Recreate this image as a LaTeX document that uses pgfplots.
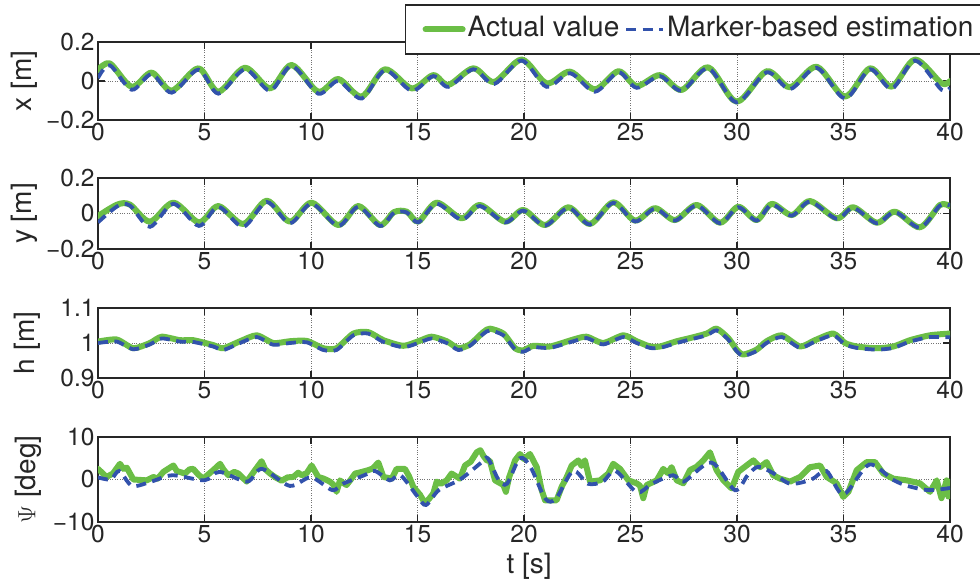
\documentclass[border=0pt]{standalone}
\usepackage{fontspec}
\setmainfont{TeX Gyre Heros}
\usepackage{pgfplots}
\pgfplotsset{compat=1.18}
\definecolor{actgreen}{RGB}{107,190,70}
\definecolor{estblue}{RGB}{50,82,172}
\definecolor{axgray}{RGB}{38,38,38}
\pgfplotsset{
  sub/.style={
    scale only axis, width=852pt, anchor=south west,
    xmin=0, xmax=40, xtick={0,5,...,40},
    tick align=inside, tick pos=both, major tick length=7pt,
    grid=major, grid style={dotted, black!55, line width=0.9pt},
    axis line style={line width=1.3pt, axgray},
    every tick/.style={line width=1.1pt, axgray},
    tick label style={font=\fontsize{24.5}{26}\selectfont, text=axgray},
    label style={font=\fontsize{28}{30}\selectfont, text=axgray},
    /pgf/number format/assume math mode=true,
    ylabel style={anchor=center, rotate=0},
  },
  act/.style={actgreen, line width=6pt, line join=round, line cap=round},
  est/.style={estblue, line width=3.8pt, dash pattern=on 10pt off 6.5pt},
}
\begin{document}
\begin{tikzpicture}
% ---------- x ----------
\begin{axis}[sub, at={(98pt,466pt)}, height=78pt,
  ymin=-0.2, ymax=0.2, ytick={-0.2,0,0.2}, yticklabels={−0.2,0,0.2},
  ylabel={x [m]}, ylabel style={at={(axis description cs:-0.087,0.5)}},
  legend columns=2,
  legend style={at={(axis description cs:0.3603,1.483)}, anchor=north west,
    draw=axgray, line width=1.3pt, fill=white,
    font=\fontsize{28}{30}\selectfont, text=axgray,
    inner xsep=17pt, inner ysep=9.5pt,
    nodes={inner sep=2pt, text height=20pt, text depth=6pt},
    /tikz/every even column/.append style={column sep=3pt}},
  legend image code/.code={\draw[#1] (0pt,0pt) -- (37pt,0pt);},
]
\addplot[act, smooth] coordinates {
(0,0.056) (0.56,0.09) (1.58,-0.03) (2.52,0.043) (3.46,-0.05) (4.71,0.065)
(5.65,-0.055) (6.9,0.068) (8.08,-0.038) (9.09,0.082) (10.34,-0.055) (11.28,0.01)
(12.38,-0.08) (13.47,0.06) (14.73,-0.038) (15.74,0.03) (16.45,-0.02) (17.62,0.065)
(18.6,-0.005) (19.89,0.11) (21.06,-0.012) (22.16,0.048) (23.33,-0.043) (24.43,0.05)
(25.29,-0.026) (26.38,0.03) (27.4,-0.046) (28.65,0.07) (29.98,-0.106) (31.39,0.05)
(32.49,-0.032) (33.74,0.073) (35.07,-0.08) (36.24,0.065) (37.26,-0.029) (38.36,0.11)
(39.6,-0.012) (40,0.0)};
\addlegendentry{Actual value}
\addplot[est, smooth] coordinates {
(0,0.015) (0.56,0.08) (1.58,-0.045) (2.52,0.035) (3.46,-0.06) (4.71,0.058)
(5.65,-0.065) (6.9,0.06) (8.08,-0.05) (9.09,0.078) (10.34,-0.065) (11.28,0.0)
(12.38,-0.09) (13.47,0.055) (14.73,-0.05) (15.74,0.025) (16.45,-0.03) (17.62,0.06)
(18.6,-0.015) (19.89,0.105) (21.06,-0.03) (22.16,0.04) (23.33,-0.055) (24.43,0.045)
(25.29,-0.035) (26.38,0.025) (27.4,-0.05) (28.65,0.065) (29.98,-0.11) (31.39,0.045)
(32.49,-0.042) (33.74,0.068) (35.07,-0.09) (36.24,0.06) (37.26,-0.04) (38.36,0.105)
(39.6,-0.045) (40,-0.035)};
\addlegendentry{Marker-based estimation}
\end{axis}
% ---------- y ----------
\begin{axis}[sub, at={(98pt,337pt)}, height=71pt,
  ymin=-0.2, ymax=0.2, ytick={-0.2,0,0.2}, yticklabels={−0.2,0,0.2},
  ylabel={y [m]}, ylabel style={at={(axis description cs:-0.086,0.5)}},
]
\addplot[act, smooth] coordinates {
(0,-0.015) (0.9,0.05) (1.5,0.05) (2.44,-0.046) (3.54,0.061) (4.74,-0.05)
(5.65,0.042) (6.82,-0.059) (7.92,0.072) (9.01,-0.046) (10.03,0.061) (11.28,-0.065)
(12.22,0.042) (13.24,-0.065) (13.9,0.008) (14.5,0.01) (15.04,-0.046) (15.9,0.061)
(17.07,-0.027) (17.93,0.048) (19.11,-0.046) (19.97,0.02) (20.99,-0.065) (22.08,0.035)
(23.1,-0.059) (24.19,0.063) (25.21,-0.04) (26.15,0.03) (27.09,-0.037) (28.11,0.048)
(29.2,-0.052) (30.06,0.038) (30.92,-0.037) (31.63,0.054) (32.57,-0.009) (33.43,0.07)
(34.68,-0.027) (35.46,0.035) (36.56,-0.052) (37.42,0.01) (38.59,-0.078) (39.53,0.048)
(40,0.04)};
\addplot[est, smooth] coordinates {
(0,-0.05) (0.9,0.04) (1.5,0.045) (2.44,-0.075) (3.54,0.055) (4.74,-0.07)
(5.65,0.038) (6.82,-0.075) (7.92,0.065) (9.01,-0.055) (10.03,0.055) (11.28,-0.07)
(12.22,0.038) (13.24,-0.07) (13.9,0.004) (14.5,0.006) (15.04,-0.05) (15.9,0.055)
(17.07,-0.035) (17.93,0.042) (19.11,-0.05) (19.97,0.016) (20.99,-0.068) (22.08,0.032)
(23.1,-0.062) (24.19,0.06) (25.21,-0.045) (26.15,0.027) (27.09,-0.04) (28.11,0.045)
(29.2,-0.055) (30.06,0.035) (30.92,-0.04) (31.63,0.05) (32.57,-0.012) (33.43,0.067)
(34.68,-0.03) (35.46,0.032) (36.56,-0.055) (37.42,0.008) (38.59,-0.08) (39.53,0.045)
(40,0.045)};
\end{axis}
% ---------- h ----------
\begin{axis}[sub, at={(98pt,208pt)}, height=70pt,
  ymin=0.9, ymax=1.1, ytick={0.9,1,1.1}, yticklabels={0.9,1,1.1},
  ylabel={h [m]}, ylabel style={at={(axis description cs:-0.083,0.5)}},
]
\addplot[act, smooth, tension=0.4] coordinates {
(0,1.004) (0.88,1.01) (1.66,0.985) (2.44,1.0) (2.99,1.018) (3.85,1.008) (4.47,1.008)
(5.41,0.994) (5.88,0.985) (6.67,1.005) (7.45,1.022) (8.23,1.0) (9.01,1.005) (9.8,1.006)
(10.58,0.985) (11.2,0.985) (11.99,1.027) (12.69,1.031) (13.4,1.008) (14.33,0.992)
(15.04,1.005) (15.66,1.018) (16.37,1.005) (16.92,0.985) (17.46,0.996) (18.09,1.031)
(18.4,1.041) (19.03,1.027) (19.58,0.985) (19.97,0.979) (20.44,0.992) (21.22,0.99)
(22.32,1.01) (22.94,1.018) (23.72,1.0) (24.66,1.022) (25.29,1.005) (25.92,0.99)
(26.38,0.99) (27.17,1.005) (27.79,1.014) (28.58,1.027) (29.04,1.041) (29.59,1.014)
(29.98,0.981) (30.3,0.967) (30.92,0.981) (31.39,1.005) (32.1,1.022) (32.96,0.99)
(33.66,1.008) (34.52,1.027) (35.07,1.0) (35.62,0.99) (36.56,0.985) (37.34,0.99)
(38.12,1.008) (39.06,1.022) (40,1.027)};
\addplot[est, smooth, tension=0.4] coordinates {
(0,1.0) (0.88,1.004) (1.66,0.982) (2.44,0.996) (2.99,1.013) (3.85,1.004) (4.47,1.003)
(5.41,0.99) (5.88,0.98) (6.67,1.0) (7.45,1.017) (8.23,0.995) (9.01,1.0) (9.8,1.002)
(10.58,0.98) (11.2,0.98) (11.99,1.022) (12.69,1.027) (13.4,1.003) (14.33,0.988)
(15.04,1.0) (15.66,1.013) (16.37,1.0) (16.92,0.98) (17.46,0.992) (18.09,1.026)
(18.4,1.036) (19.03,1.022) (19.58,0.982) (19.97,0.975) (20.44,0.988) (21.22,0.986)
(22.32,1.005) (22.94,1.014) (23.72,0.996) (24.66,1.017) (25.29,1.0) (25.92,0.986)
(26.38,0.986) (27.17,1.0) (27.79,1.01) (28.58,1.022) (29.04,1.036) (29.59,1.01)
(29.98,0.977) (30.3,0.963) (30.92,0.977) (31.39,1.0) (32.1,1.017) (32.96,0.986)
(33.66,1.004) (34.52,1.022) (35.07,0.996) (35.62,0.986) (36.56,0.981) (37.34,0.986)
(38.12,1.004) (39.06,1.017) (40,1.016)};
\end{axis}
% ---------- Psi ----------
\begin{axis}[sub, at={(98pt,64pt)}, height=85pt,
  ymin=-10, ymax=10, ytick={-10,0,10}, yticklabels={−10,0,10},
  ylabel={$\Psi$ [deg]}, ylabel style={at={(axis description cs:-0.082,0.5)}},
  xlabel={t [s]}, xlabel style={at={(axis description cs:0.506,-0.518)}, anchor=center},
]
\addplot[act] coordinates {
(0,2.5) (0.4,0.6) (0.7,1.4) (1.03,3.7) (1.2,2.5) (1.35,2.8) (1.66,0) (2.29,-0.2)
(2.6,0.6) (2.8,0.2) (3.07,1.8) (3.54,3.3) (3.7,2.0) (4.08,1.4) (4.3,2.4) (4.47,2.5)
(4.7,1.2) (4.94,0.2) (5.41,2.2) (5.73,3.7) (5.9,2.3) (6.12,1) (6.4,1.8) (6.59,1.4)
(6.98,-0.5) (7.2,1.0) (7.37,2.2) (7.68,4.3) (7.85,2.4) (8.08,1.4) (8.3,0.6) (8.62,-0.3)
(8.9,0.5) (9.17,0.6) (9.4,1.6) (9.56,1.0) (9.8,1.5) (10.03,3.3) (10.34,0.6) (10.6,0.2)
(10.89,-0.5) (11.05,-1.2) (11.2,-2.9) (11.36,-0.2) (11.5,-0.8) (11.67,-1.3) (11.9,0.2)
(12.07,1.4) (12.4,1.8) (12.69,2.2) (12.9,2.6) (13.16,4) (13.4,0.6) (13.79,0.2)
(14.02,2.5) (14.41,2.5) (14.6,0.8) (14.8,-1.7) (15.12,-3.6) (15.35,-5.6) (15.55,-4.5)
(15.74,-3.3) (15.9,-0.5) (16.1,-1.0) (16.37,-0.2) (16.6,1.4) (16.99,0.2) (17.23,3.3)
(17.5,4.2) (17.78,6.4) (17.95,6.9) (18.1,5.5) (18.25,4.5) (18.4,4.4) (18.64,-0.2)
(19.03,-1.3) (19.15,-2.9) (19.3,0.5) (19.58,4.5) (19.81,6) (20.0,4.8) (20.28,6)
(20.6,2.9) (20.83,-2.5) (20.99,-4.9) (21.53,-4.9) (21.77,-1.7) (22.0,0.5) (22.24,3.3)
(22.55,4.5) (22.7,3.2) (22.86,4.5) (23.1,-0.5) (23.57,-0.2) (23.96,1.4) (24.19,3.7)
(24.51,2.5) (24.9,-0.2) (25.29,-0.9) (25.45,-1.5) (25.6,-4.4) (25.76,-1.3) (26.23,-0.2)
(26.54,2.5) (26.75,1.5) (26.93,2.9) (27.17,-0.2) (27.48,-0.9) (27.79,2.2) (28.1,3.0)
(28.42,4.5) (28.73,6.4) (29.04,2.2) (29.36,-0.2) (29.75,-2.1) (30.06,1.8) (30.45,3.3)
(30.77,4.5) (31.08,2.9) (31.39,4.1) (31.7,1) (32.02,0.2) (32.49,-0.5) (32.96,0.6)
(33.43,2.9) (33.9,3.3) (34.21,0.6) (34.68,-0.9) (34.99,-4.1) (35.23,-2.9) (35.62,2.2)
(36.09,4.1) (36.48,4.1) (36.87,1.4) (37.34,0.2) (37.96,-0.2) (38.59,-0.9) (39.06,-2.9)
(39.38,-0.2) (39.6,-4.4) (39.84,-0.2) (39.92,-4.0) (40,-0.5)};
\addplot[est, smooth, tension=0.5] coordinates {
(0,0.5) (0.6,0) (1,2) (1.6,-1.5) (2.5,-0.5) (3.5,1) (5,-0.2) (5.7,1.8) (7,-0.5)
(7.7,2.5) (9,-1.5) (10,0.5) (11,-2.5) (11.5,-1) (12.5,1) (13,2) (13.7,-0.2) (14.2,1)
(15,-4) (15.4,-6) (16,-2.5) (17,0) (18,4) (18.3,5) (18.8,0) (19.2,-1) (19.8,5)
(20.3,3) (21,-4.5) (21.5,-4.5) (22.3,2) (23,-1) (23.7,-0.5) (24.3,2) (25.3,-3)
(26,-1) (27,1) (27.5,-0.5) (28.8,4) (29.9,-2.5) (30.5,1) (31,3) (31.7,1.5)
(32.5,-1) (33.5,0) (34.2,2) (35,-3.5) (36.2,3.5) (37.3,0) (38,-1.5) (39,-2.5) (40,-2)};
\end{axis}
\pgfresetboundingbox
\useasboundingbox (0pt,0pt) rectangle (980pt,586pt);
\end{tikzpicture}
\end{document}
